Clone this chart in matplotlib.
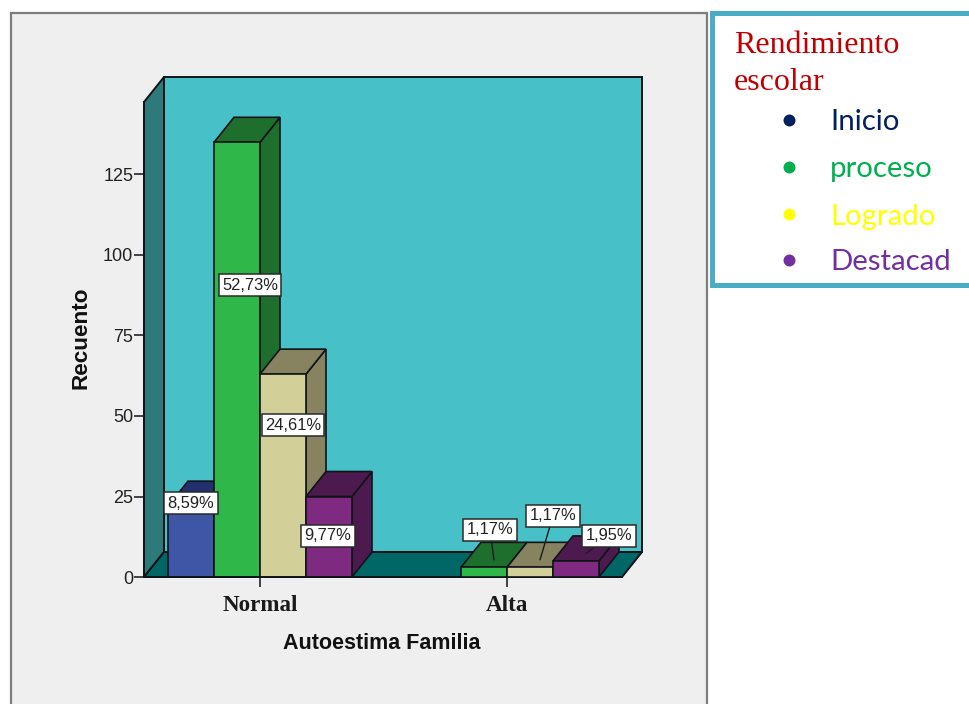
import numpy as np
import matplotlib
matplotlib.use("Agg")
import matplotlib.pyplot as plt
from matplotlib.patches import Polygon, Rectangle

categories = ["Normal", "Alta"]
inicio = [22, 0]
proceso = [135, 3]
logrado = [63, 3]
destacado = [25, 5]
pct_normal = ["8,59%", "52,73%", "24,61%", "9,77%"]
pct_alta = ["1,17%", "1,17%", "1,95%"]
yticks = [0, 25, 50, 75, 100, 125]
legend_title = "Rendimiento\nescolar"
legend_names = ["Inicio", "proceso", "Logrado", "Destacad"]
legend_colors = ["#002060", "#00b050", "#ffff00", "#7030a0"]

front = ["#3f56a6", "#2fb74a", "#d3cf98", "#7e2a80"]
dark = ["#232f6e", "#1e6e2d", "#878360", "#4c1a4e"]
EDGE = "#101418"

W, H = 969, 704
fig = plt.figure(figsize=(W / 100, H / 100), dpi=100, facecolor="white")

# page layer in pixels: grey panel and legend box
bg = fig.add_axes([0, 0, 1, 1], zorder=0)
bg.set_xlim(0, W)
bg.set_ylim(H, 0)
bg.axis("off")
bg.add_patch(Rectangle((11, 13), 696, 700, fc="#efefef", ec="#7d7d7d", lw=1.6))
bg.add_patch(Rectangle((712.5, 12.5), 270, 272, fc="white", ec="#4bacc6", lw=3.6))
bg.text(734, 53, legend_title.split("\n")[0], family="Liberation Serif", fontsize=23, color="#c00000", va="baseline")
bg.text(734, 90, legend_title.split("\n")[1], family="Liberation Serif", fontsize=23, color="#c00000", va="baseline")
for name, col, y in zip(legend_names, legend_colors, [120, 167, 214, 260]):
    bg.plot(789, y, "o", ms=8.6, color=col, mew=0)
    bg.text(830, y, name, family="Lato", fontsize=21.2, color=col, va="center_baseline")

# chart axes = front plane of the box
left, right, base, top = 144, 622, 577, 102
ax = fig.add_axes([left / W, 1 - base / H, (right - left) / W, (base - top) / H], zorder=1)
px_x = 247.0
px_y = 3.22
ax.set_xlim((left - 260) / px_x, (right - 260) / px_x)
ax.set_ylim(0, (base - top) / px_y)
ax.patch.set_alpha(0)
for s in ["top", "right"]:
    ax.spines[s].set_visible(False)
for s in ["left", "bottom"]:
    ax.spines[s].set_color(EDGE)
    ax.spines[s].set_linewidth(1.3)
    ax.spines[s].set_zorder(6)

dx = 20 / px_x
dy = 25 / px_y
x0, x1 = ax.get_xlim()
y1 = ax.get_ylim()[1]
ax.add_patch(Polygon([(x0 + dx, dy), (x1 + dx, dy), (x1 + dx, y1 + dy), (x0 + dx, y1 + dy)], fc="#47c1c7", ec=EDGE, lw=1.4, clip_on=False, zorder=1))
ax.add_patch(Polygon([(x0, 0), (x0 + dx, dy), (x0 + dx, y1 + dy), (x0, y1)], fc="#2e7a7a", ec=EDGE, lw=1.4, clip_on=False, zorder=1))
ax.add_patch(Polygon([(x0, 0), (x1, 0), (x1 + dx, dy), (x0 + dx, dy)], fc="#006666", ec=EDGE, lw=1.4, clip_on=False, zorder=1))

series = [inicio, proceso, logrado, destacado]
bw = 46 / px_x
xs = np.arange(len(categories))
z = 2
for c in range(len(categories)):
    for i, vals in enumerate(series):
        v = vals[c]
        if v == 0:
            continue
        xl = xs[c] + (i - 2) * bw
        xr = xl + bw
        ax.add_patch(Polygon([(xr, 0), (xr + dx, dy), (xr + dx, v + dy), (xr, v)], fc=dark[i], ec=EDGE, lw=1.2, clip_on=False, zorder=z))
        ax.add_patch(Polygon([(xl, v), (xr, v), (xr + dx, v + dy), (xl + dx, v + dy)], fc=dark[i], ec=EDGE, lw=1.2, clip_on=False, zorder=z))
        ax.add_patch(Rectangle((xl, 0), bw, v, fc=front[i], ec=EDGE, lw=1.2, clip_on=False, zorder=z + 0.5))
        z += 1

ax.set_yticks(yticks)
ax.set_xticks(xs)
ax.set_xticklabels(categories, family="Liberation Serif", fontweight="bold", fontsize=16.6, color="#1a1a1a")
ax.tick_params(axis="y", length=7.2, width=1.1, color=EDGE, labelsize=13, labelcolor="#222222", pad=0.5)
ax.tick_params(axis="x", length=7.2, width=1.1, color=EDGE, pad=5.5)
for t in ax.get_yticklabels():
    t.set_family("Liberation Sans")
ax.set_xlabel("Autoestima Familia", family="Liberation Sans", fontweight="bold", fontsize=15.5, color="#111111")
ax.set_ylabel("Recuento", family="Liberation Sans", fontweight="bold", fontsize=16.2, color="#111111")
ax.xaxis.set_label_coords((382 - left) / (right - left), -(633 - base) / (base - top), transform=ax.transAxes)
ax.yaxis.set_label_coords(-(144 - 92) / (right - left), (base - 338) / (base - top), transform=ax.transAxes)

# label layer on top, label centres in page pixels
over = fig.add_axes([0, 0, 1, 1], zorder=2)
over.set_xlim(0, W)
over.set_ylim(H, 0)
over.axis("off")
box = dict(boxstyle="square,pad=0.2", fc="white", ec="#2a2a2a", lw=1.1)
for txt, (px, py) in zip(pct_normal, [(191, 503), (250, 285), (293, 425), (328, 536)]):
    over.text(px, py, txt, family="Liberation Sans", fontsize=11.9, color="#222222", ha="center", va="center", bbox=box)
for i, (txt, (px, py)) in enumerate(zip(pct_alta, [(490, 530), (553, 516), (609, 536)])):
    vals = series[i + 1]
    target = (xs[1] + (i - 1) * bw + bw / 2 + dx / 2, vals[1] + dy * 0.3)
    over.annotate(txt, xy=target, xycoords=ax.transData, xytext=(px, py), textcoords=over.transData,
                  family="Liberation Sans", fontsize=11.9, color="#222222", ha="center", va="center", bbox=box,
                  arrowprops=dict(arrowstyle="-", color="#1a1a1a", lw=1.0, shrinkA=0, shrinkB=0))

fig.savefig("out.png", dpi=100)
plt.close()
